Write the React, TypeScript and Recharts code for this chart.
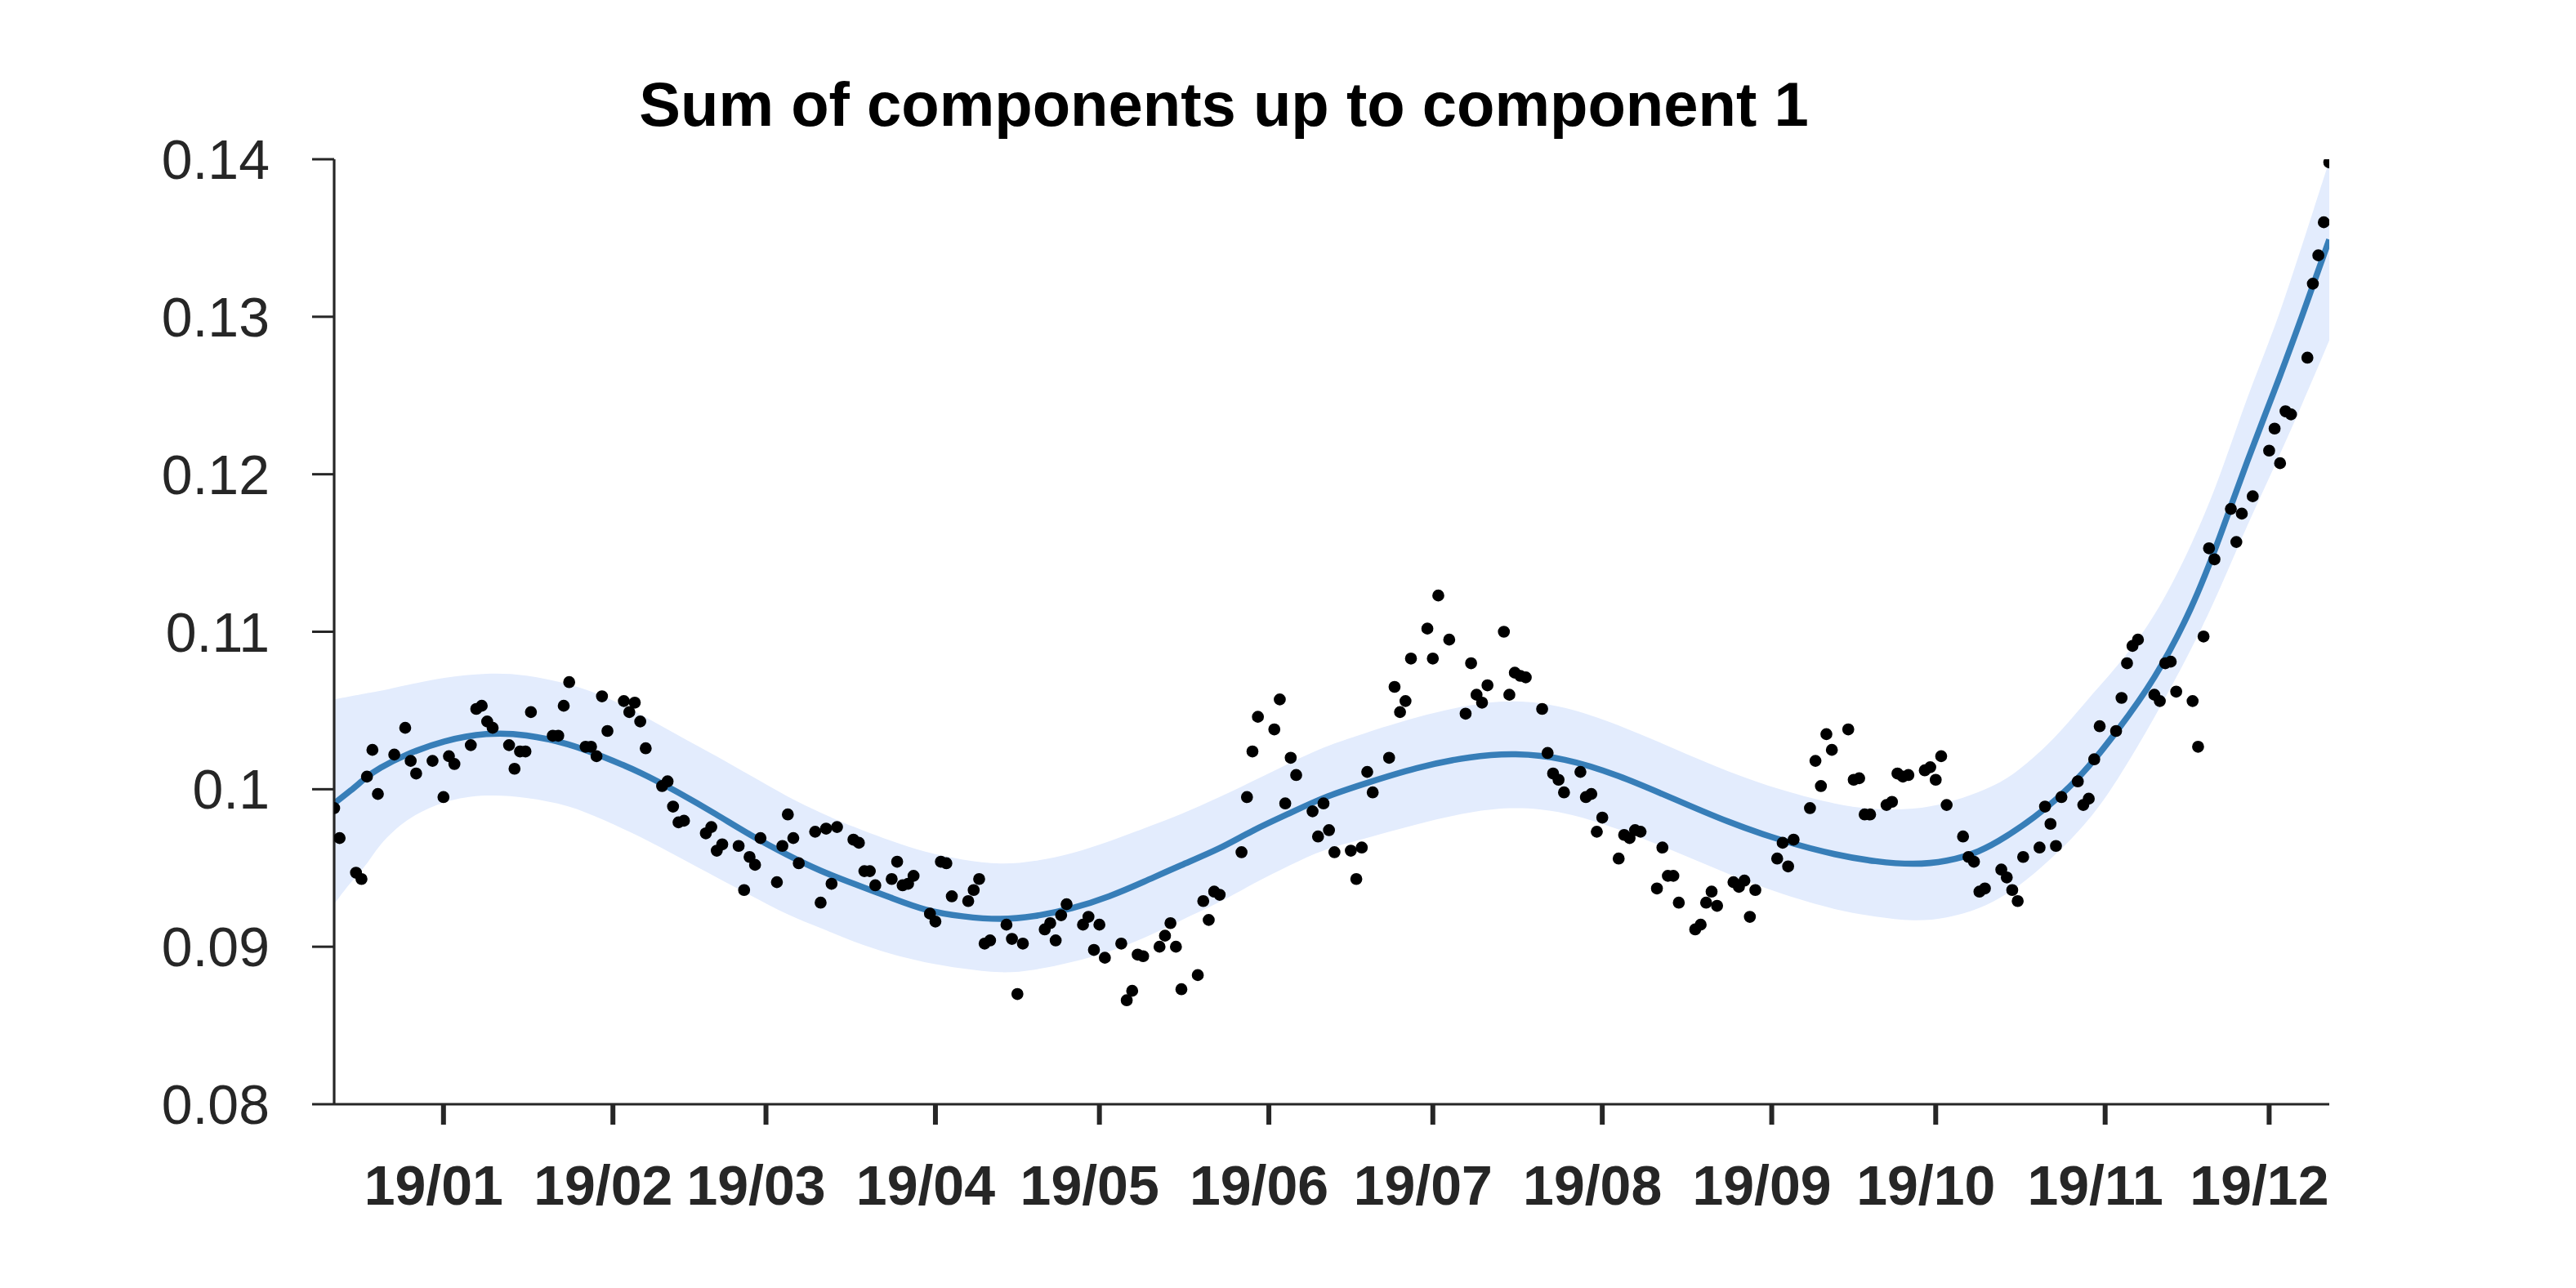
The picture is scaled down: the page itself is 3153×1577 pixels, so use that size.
import React from 'react';
import { ComposedChart, Area, Line, Scatter, XAxis, YAxis, ZAxis } from 'recharts';

// Observed points: day offset from 2019-01-01 and value
const pointDays = [
  -20, -19, -16, -15, -14, -13, -12, -9, -7, -6, -5, -2, 0, 1, 2, 5, 6, 7, 8, 9,
  12, 13, 14, 15, 16, 20, 21, 22, 23, 26, 27, 28, 29, 30, 33, 34, 35, 36, 37, 40,
  41, 42, 43, 44, 48, 49, 50, 51, 54, 55, 56, 57, 58, 61, 62, 63, 64, 65, 68, 69,
  70, 71, 72, 75, 76, 77, 78, 79, 82, 83, 84, 85, 86, 89, 90, 91, 92, 93, 96, 97,
  98, 99, 100, 103, 104, 105, 106, 110, 111, 112, 113, 114, 117, 118, 119, 120, 121, 124, 125, 126,
  127, 128, 131, 132, 133, 134, 135, 138, 139, 140, 141, 142, 146, 147, 148, 149, 152, 153, 154, 155,
  156, 159, 160, 161, 162, 163, 166, 167, 168, 169, 170, 173, 174, 175, 176, 177, 180, 181, 182, 184,
  187, 188, 189, 190, 191, 194, 195, 196, 197, 198, 201, 202, 203, 204, 205, 208, 209, 210, 211, 212,
  215, 216, 217, 218, 219, 222, 223, 224, 225, 226, 229, 230, 231, 232, 233, 236, 237, 238, 239, 240,
  244, 245, 246, 247, 250, 251, 252, 253, 254, 257, 258, 259, 260, 261, 264, 265, 266, 267, 268, 271,
  272, 273, 274, 275, 278, 279, 280, 281, 282, 285, 286, 287, 288, 289, 292, 293, 294, 295, 296, 299,
  300, 301, 302, 303, 306, 307, 308, 309, 310, 313, 314, 315, 316, 317, 320, 321, 322, 323, 324, 327,
  328, 329, 331, 334, 335, 336, 337, 338, 341, 342, 343, 344, 345,
];
const pointValues = [
  0.0988, 0.0969, 0.0947, 0.0943, 0.1008, 0.1025, 0.0997, 0.1022, 0.1039, 0.1018, 0.1010, 0.1018, 0.0995, 0.1021, 0.1016, 0.1028, 0.1051, 0.1053, 0.1043, 0.1039,
  0.1028, 0.1013, 0.1024, 0.1024, 0.1049, 0.1034, 0.1034, 0.1053, 0.1068, 0.1027, 0.1027, 0.1021, 0.1059, 0.1037, 0.1056, 0.1049, 0.1055, 0.1043, 0.1026, 0.1002,
  0.1005, 0.0989, 0.0979, 0.0980, 0.0972, 0.0976, 0.0961, 0.0965, 0.0964, 0.0936, 0.0957, 0.0952, 0.0969, 0.0941, 0.0964, 0.0984, 0.0969, 0.0953, 0.0973, 0.0928,
  0.0975, 0.0940, 0.0976, 0.0968, 0.0966, 0.0948, 0.0948, 0.0939, 0.0943, 0.0954, 0.0939, 0.0940, 0.0945, 0.0921, 0.0916, 0.0954, 0.0953, 0.0932, 0.0929, 0.0936,
  0.0943, 0.0902, 0.0904, 0.0914, 0.0905, 0.0870, 0.0902, 0.0911, 0.0915, 0.0904, 0.0920, 0.0927, 0.0914, 0.0919, 0.0898, 0.0914, 0.0893, 0.0902, 0.0866, 0.0872,
  0.0895, 0.0894, 0.0900, 0.0907, 0.0915, 0.0900, 0.0873, 0.0882, 0.0929, 0.0917, 0.0935, 0.0933, 0.0960, 0.0995, 0.1024, 0.1046, 0.1038, 0.1057, 0.0991, 0.1020,
  0.1009, 0.0986, 0.0970, 0.0991, 0.0974, 0.0960, 0.0961, 0.0943, 0.0963, 0.1011, 0.0998, 0.1020, 0.1065, 0.1049, 0.1056, 0.1083, 0.1102, 0.1083, 0.1123, 0.1095,
  0.1048, 0.1080, 0.1060, 0.1055, 0.1066, 0.1100, 0.1060, 0.1074, 0.1072, 0.1071, 0.1051, 0.1023, 0.1010, 0.1006, 0.0998, 0.1011, 0.0995, 0.0997, 0.0973, 0.0982,
  0.0956, 0.0971, 0.0969, 0.0974, 0.0973, 0.0937, 0.0963, 0.0945, 0.0945, 0.0928, 0.0911, 0.0914, 0.0928, 0.0935, 0.0926, 0.0941, 0.0938, 0.0942, 0.0919, 0.0936,
  0.0956, 0.0966, 0.0951, 0.0968, 0.0988, 0.1018, 0.1002, 0.1035, 0.1025, 0.1038, 0.1006, 0.1007, 0.0984, 0.0984, 0.0990, 0.0992, 0.1010, 0.1008, 0.1009, 0.1012,
  0.1014, 0.1006, 0.1021, 0.0990, 0.0970, 0.0957, 0.0954, 0.0935, 0.0937, 0.0949, 0.0944, 0.0936, 0.0929, 0.0957, 0.0963, 0.0989, 0.0978, 0.0964, 0.0995, 0.1005,
  0.0990, 0.0994, 0.1019, 0.1040, 0.1037, 0.1058, 0.1080, 0.1091, 0.1095, 0.1060, 0.1056, 0.1080, 0.1081, 0.1062, 0.1056, 0.1027, 0.1097, 0.1153, 0.1146, 0.1178,
  0.1157, 0.1175, 0.1186, 0.1215, 0.1229, 0.1207, 0.1240, 0.1238, 0.1274, 0.1321, 0.1339, 0.1360, 0.1398,
];

// Fitted curve and its band
const curveDays = [
  -20, -17, -14, -12, -7, 0, 8, 15, 23, 29, 36, 43, 50, 56, 63, 69, 75, 82, 88, 95,
  102, 108, 115, 122, 128, 135, 142, 148, 155, 161, 168, 178, 188, 196, 205, 215, 225, 235, 245, 255,
  262, 269, 275, 281, 286, 291, 296, 301, 306, 313, 320, 325, 330, 335, 340, 345,
];
const curveFit = [
  0.0991, 0.0999, 0.1008, 0.1013, 0.1022, 0.1031, 0.1036, 0.1035, 0.1029, 0.1021, 0.1011, 0.0998, 0.0984, 0.0971, 0.0958, 0.0948, 0.0940, 0.0931, 0.0923, 0.0919,
  0.0917, 0.0919, 0.0924, 0.0932, 0.0941, 0.0952, 0.0962, 0.0974, 0.0985, 0.0995, 0.1003, 0.1014, 0.1021, 0.1023, 0.1020, 0.1009, 0.0994, 0.0979, 0.0967, 0.0958,
  0.0954, 0.0952, 0.0954, 0.0960, 0.0970, 0.0982, 0.0996, 0.1014, 0.1036, 0.1069, 0.1115, 0.1160, 0.1209, 0.1253, 0.1300, 0.1349,
];
const curveLower = [
  0.0927, 0.0941, 0.0952, 0.0964, 0.0981, 0.0993, 0.0997, 0.0995, 0.0990, 0.0981, 0.0970, 0.0957, 0.0944, 0.0933, 0.0920, 0.0912, 0.0903, 0.0895, 0.0890, 0.0886,
  0.0883, 0.0885, 0.0890, 0.0897, 0.0905, 0.0917, 0.0928, 0.0940, 0.0952, 0.0962, 0.0968, 0.0978, 0.0986, 0.0989, 0.0986, 0.0975, 0.0961, 0.0946, 0.0933, 0.0923,
  0.0919, 0.0916, 0.0918, 0.0924, 0.0933, 0.0946, 0.0962, 0.0980, 0.1004, 0.1045, 0.1090, 0.1127, 0.1168, 0.1205, 0.1244, 0.1285,
];
const curveUpper = [
  0.1057, 0.1059, 0.1061, 0.1062, 0.1066, 0.1071, 0.1074, 0.1073, 0.1067, 0.1060, 0.1048, 0.1034, 0.1021, 0.1009, 0.0995, 0.0985, 0.0976, 0.0967, 0.0960, 0.0955,
  0.0952, 0.0954, 0.0959, 0.0967, 0.0975, 0.0984, 0.0995, 0.1005, 0.1017, 0.1027, 0.1035, 0.1046, 0.1054, 0.1057, 0.1053, 0.1041, 0.1026, 0.1011, 0.0999, 0.0990,
  0.0987, 0.0987, 0.0991, 0.0998, 0.1006, 0.1020, 0.1037, 0.1058, 0.1077, 0.1108, 0.1156, 0.1198, 0.1250, 0.1292, 0.1345, 0.1399,
];

const monthTickDays = [0, 31, 59, 90, 120, 151, 181, 212, 243, 273, 304, 334];
const monthTickLabels = ['19/01', '19/02', '19/03', '19/04', '19/05', '19/06', '19/07', '19/08', '19/09', '19/10', '19/11', '19/12'];
const yTicks = [0.08, 0.09, 0.1, 0.11, 0.12, 0.13, 0.14];
const titleText = 'Sum of components up to component 1';

const curveRows = curveDays.map((d, i) => ({ day: d, fit: curveFit[i], band: [curveLower[i], curveUpper[i]] }));
const pointRows = pointDays.map((d, i) => ({ day: d, value: pointValues[i] }));

const FONT = '"Liberation Sans", Arial, Helvetica, sans-serif';
const AXIS = '#262626';
const DOT_AREA = 170; // circle area in px^2 (radius about 7.4)

export default function App() {
  const W = 3137;
  const H = 1561;
  return (
    <div style={{ position: 'relative', width: W, height: H }}>
      <ComposedChart width={W} height={H} data={curveRows} margin={{ top: 187, right: 294, bottom: 0, left: 0 }}>
        <XAxis
          dataKey="day"
          type="number"
          domain={[-20, 345]}
          allowDataOverflow
          ticks={monthTickDays}
          interval={0}
          tickFormatter={(v: number) => monthTickLabels[monthTickDays.indexOf(v)]}
          height={217}
          tickSize={25}
          tickMargin={50}
          axisLine={{ stroke: AXIS, strokeWidth: 3.2 }}
          tickLine={{ stroke: AXIS, strokeWidth: 6 }}
          tick={{ fill: AXIS, fontSize: 68, fontWeight: 700, fontFamily: FONT, dx: -12 }}
        />
        <YAxis
          type="number"
          domain={[0.08, 0.14]}
          allowDataOverflow
          ticks={yTicks}
          interval={0}
          width={401}
          tickSize={27}
          tickMargin={52}
          tickFormatter={(v: number) => String(Number(v.toFixed(2)))}
          axisLine={{ stroke: AXIS, strokeWidth: 3.2 }}
          tickLine={{ stroke: AXIS, strokeWidth: 3 }}
          tick={{ fill: AXIS, fontSize: 68, fontFamily: FONT }}
        />
        <ZAxis type="number" range={[DOT_AREA, DOT_AREA]} />
        <Area type="basis" dataKey="band" stroke="none" fill="#E3ECFD" fillOpacity={1} isAnimationActive={false} />
        <Line type="basis" dataKey="fit" stroke="#377EB8" strokeWidth={7.5} dot={false} activeDot={false} isAnimationActive={false} />
        <Scatter data={pointRows} dataKey="value" fill="#000000" shape="circle" isAnimationActive={false} />
      </ComposedChart>
      <svg style={{ position: 'absolute', left: 0, top: 0, pointerEvents: 'none' }} width={W} height={220}>
        <text x={1490} y={146} textAnchor="middle" fontFamily={FONT} fontWeight={700} fontSize={76} fill="#000000">
          {titleText}
        </text>
      </svg>
    </div>
  );
}
